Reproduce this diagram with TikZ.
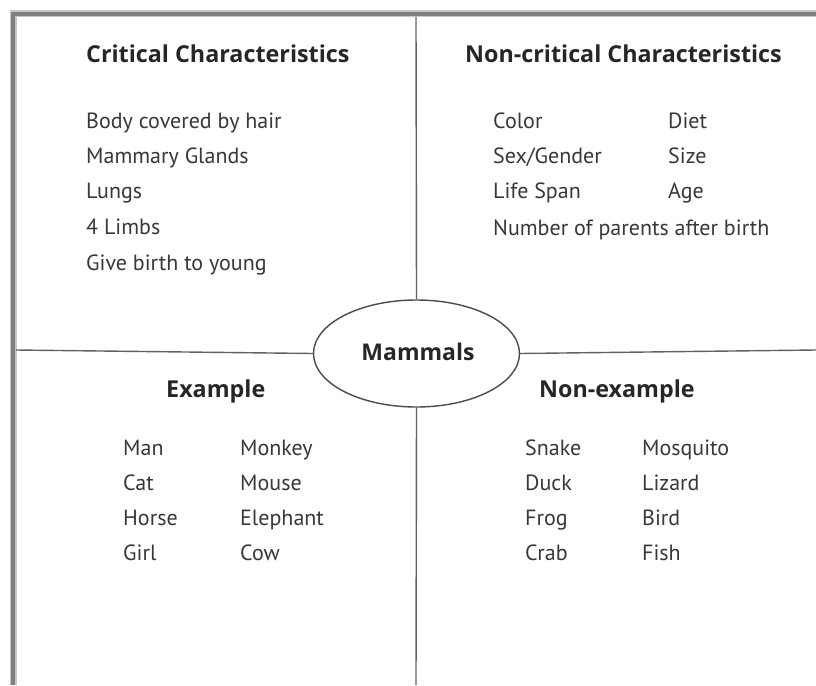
\documentclass[tikz,border=0pt]{standalone}
\usepackage{fontspec}
\setmainfont{PT Sans}
\newfontfamily\headfont{Open Sans}
\usetikzlibrary{shapes.geometric}
\begin{document}
\begin{tikzpicture}[x=1pt,y=-1pt,
  head/.style={font=\headfont\fontsize{23.3}{26}\selectfont\bfseries, text=black!85, inner sep=0, anchor=base west},
  item/.style={font=\fontsize{22}{24}\selectfont, text=black!78, inner sep=0, anchor=base west},
  divider/.style={draw=black!62, line width=1.4pt}]
\useasboundingbox (0,0) rectangle (816,685);
\fill[white] (0,0) rectangle (816,685);
% frame (shadowed border)
\coordinate (fbl) at (13,685);
\coordinate (ftl) at (13,14);
\coordinate (ftr) at (816,14);
\draw[line width=7pt, black!22] (fbl) -- (ftl) -- (ftr);
\draw[line width=3.5pt, black!50] (fbl) -- (ftl) -- (ftr);
% centre ellipse
\node[ellipse, draw=black!70, line width=1.4pt, fill=white, minimum width=206pt, minimum height=107pt, inner sep=0] (el) at (416.5,353.5) {};
\node[font=\headfont\fontsize{23}{26}\selectfont\bfseries, text=black!85, inner sep=0, anchor=base] (mam) at (418,360) {Mammals};
% dividers
\coordinate (vt) at (416,17);
\coordinate (vb) at (416,685);
\coordinate (hl) at (16,350);
\coordinate (hr) at (816,350);
\draw[divider] (vt) -- (el.north);
\draw[divider] (el.south) -- (vb);
\draw[divider] (hl) -- (el.west);
\draw[divider] (el.east) -- (hr);
% critical
\node[head] (h1) at (86,63) {Critical Characteristics};
\node[item] (c1) at (86,128) {Body covered by hair};
\node[item] (c2) at (86,163) {Mammary Glands};
\node[item] (c3) at (86,198) {Lungs};
\node[item] (c4) at (86,234) {4 Limbs};
\node[item] (c5) at (86,270) {Give birth to young};
% non-critical
\node[head] (h2) at (465,63) {Non-critical Characteristics};
\node[item] (n1) at (493,128) {Color};
\node[item] (n2) at (493,163) {Sex/Gender};
\node[item] (n3) at (493,198) {Life Span};
\node[item] (n4) at (493,235) {Number of parents after birth};
\node[item] (n5) at (668,128) {Diet};
\node[item] (n6) at (668,163) {Size};
\node[item] (n7) at (668,198) {Age};
% example
\node[head] (h3) at (166,397) {Example};
\node[item] (e1) at (123,455) {Man};
\node[item] (e2) at (123,490) {Cat};
\node[item] (e3) at (123,525) {Horse};
\node[item] (e4) at (123,560) {Girl};
\node[item] (e5) at (240,455) {Monkey};
\node[item] (e6) at (240,490) {Mouse};
\node[item] (e7) at (240,525) {Elephant};
\node[item] (e8) at (240,560) {Cow};
% non-example
\node[head] (h4) at (539,397) {Non-example};
\node[item] (x1) at (525,455) {Snake};
\node[item] (x2) at (525,490) {Duck};
\node[item] (x3) at (525,525) {Frog};
\node[item] (x4) at (525,560) {Crab};
\node[item] (x5) at (642,455) {Mosquito};
\node[item] (x6) at (642,490) {Lizard};
\node[item] (x7) at (642,525) {Bird};
\node[item] (x8) at (642,560) {Fish};
\end{tikzpicture}
\end{document}
